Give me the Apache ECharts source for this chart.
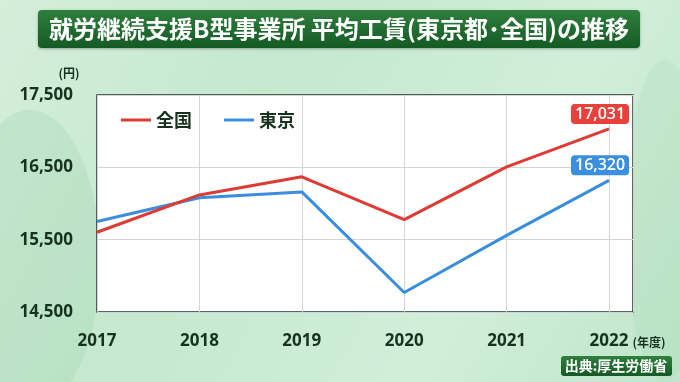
<!DOCTYPE html>
<html><head><meta charset="utf-8">
<script src="https://cdn.jsdelivr.net/npm/echarts@6/dist/echarts.min.js"></script>
<style>html,body{margin:0;padding:0;}#c{width:680px;height:382px;}</style>
</head><body><div id="c"></div>
<script>
const years = [2017, 2018, 2019, 2020, 2021, 2022];
const national = [15603, 16118, 16369, 15776, 16507, 17031];
const tokyo = [15750, 16080, 16160, 14770, 15560, 16320];
const yTicks = [14500, 15500, 16500, 17500];
const seriesNames = ['全国', '東京'];
const titleText = '就労継続支援B型事業所 平均工賃(東京都･全国)の推移';
const sourceText = '出典:厚生労働省';

const FONT = '"Noto Sans CJK JP", "Noto Sans", sans-serif';
const NUMFONT = '"Open Sans", "Noto Sans", sans-serif';
const dark = '#17321f';

function pts(vals, color) {
  return vals.map((v, i) => {
    const item = { value: [years[i], v] };
    if (i === vals.length - 1) {
      item.label = {
        show: true, position: 'top', distance: 5, offset: [-9, 0],
        formatter: p => p.value[1].toLocaleString('en-US'),
        color: '#fff', fontSize: 16, fontFamily: NUMFONT, fontWeight: 600,
        backgroundColor: color, borderRadius: 4, padding: [1, 4, 0, 4], lineHeight: 19
      };
    }
    return item;
  });
}

const chart = echarts.init(document.getElementById('c'), null, { renderer: 'canvas' });
chart.setOption({
  backgroundColor: {
    type: 'linear', x: 0, y: 0, x2: 1, y2: 1,
    colorStops: [
      { offset: 0, color: '#d4eeda' }, { offset: 0.35, color: '#c5e8cf' },
      { offset: 0.7, color: '#d1eed9' }, { offset: 1, color: '#c0e5ca' }
    ]
  },
  animation: false,
  graphic: [
    { type: 'ellipse', shape: { cx: 30, cy: 260, rx: 70, ry: 150 }, style: { fill: 'rgba(140,205,160,0.22)' }, silent: true, z: -10 },
    { type: 'ellipse', shape: { cx: 665, cy: 220, rx: 40, ry: 160 }, style: { fill: 'rgba(140,205,160,0.15)' }, silent: true, z: -10 },
    {
      type: 'rect', shape: { x: 38, y: 10, width: 602, height: 38, r: 4 },
      style: {
        fill: { type: 'linear', x: 0, y: 0, x2: 0, y2: 1, colorStops: [{ offset: 0, color: '#2f7f3d' }, { offset: 1, color: '#145a24' }] },
        shadowBlur: 3, shadowColor: 'rgba(0,0,0,0.3)', shadowOffsetY: 1
      }, z: 1
    },
    {
      type: 'text', x: 339, y: 29, z: 2,
      style: { text: titleText, fill: '#fff', font: 'bold 24px ' + FONT, textAlign: 'center', textVerticalAlign: 'middle' }
    },
    {
      type: 'text', x: 69, y: 73, z: 2,
      style: { text: '(円)', fill: dark, font: 'bold 12px ' + FONT, textAlign: 'center', textVerticalAlign: 'middle' }
    },
    {
      type: 'text', x: 649, y: 342, z: 2,
      style: { text: '(年度)', fill: dark, font: 'bold 12px ' + FONT, textAlign: 'center', textVerticalAlign: 'middle' }
    },
    {
      type: 'rect', shape: { x: 561, y: 356, width: 111, height: 20, r: 3 },
      style: {
        fill: { type: 'linear', x: 0, y: 0, x2: 0, y2: 1, colorStops: [{ offset: 0, color: '#2f7f3d' }, { offset: 1, color: '#145a24' }] }
      }, z: 1
    },
    {
      type: 'text', x: 616, y: 366, z: 2,
      style: { text: sourceText, fill: '#fff', font: 'bold 14px ' + FONT, textAlign: 'center', textVerticalAlign: 'middle' }
    }
  ],
  grid: {
    left: 97, top: 95, width: 536, height: 217,
    show: true, backgroundColor: '#ffffff', borderColor: '#24382a', borderWidth: 1.5
  },
  legend: {
    left: 116, top: 106, itemGap: 32, itemWidth: 30, itemHeight: 3, icon: 'rect',
    textStyle: { color: dark, fontSize: 18, fontWeight: 'bold', fontFamily: FONT },
    data: seriesNames
  },
  xAxis: {
    type: 'value', min: years[0], max: 2022.234, interval: 1,
    axisLine: { show: false }, axisTick: { show: false },
    splitLine: { show: true, lineStyle: { color: '#d4d4d4', width: 1 } },
    axisLabel: {
      margin: 21, color: dark, fontSize: 17, fontWeight: 'bold', fontFamily: NUMFONT,
      showMaxLabel: false,
      formatter: v => Number.isInteger(v) ? String(v) : ''
    }
  },
  yAxis: {
    type: 'value', min: yTicks[0], max: yTicks[yTicks.length - 1], interval: 1000,
    axisLine: { show: false }, axisTick: { show: false },
    splitLine: { show: true, lineStyle: { color: '#d4d4d4', width: 1 } },
    axisLabel: {
      margin: 24, color: dark, fontSize: 17, fontWeight: 'bold', fontFamily: NUMFONT,
      formatter: v => v.toLocaleString('en-US')
    }
  },
  series: [
    { name: seriesNames[0], type: 'line', data: pts(national, '#e8413b'), showSymbol: true, symbol: 'circle', symbolSize: 0,
      lineStyle: { color: '#df3a33', width: 3 }, itemStyle: { color: '#df3a33' }, z: 3 },
    { name: seriesNames[1], type: 'line', data: pts(tokyo, '#3a8fe0'), showSymbol: true, symbol: 'circle', symbolSize: 0,
      lineStyle: { color: '#3a8ee0', width: 3 }, itemStyle: { color: '#3a8ee0' }, z: 2 }
  ]
});
</script></body></html>
